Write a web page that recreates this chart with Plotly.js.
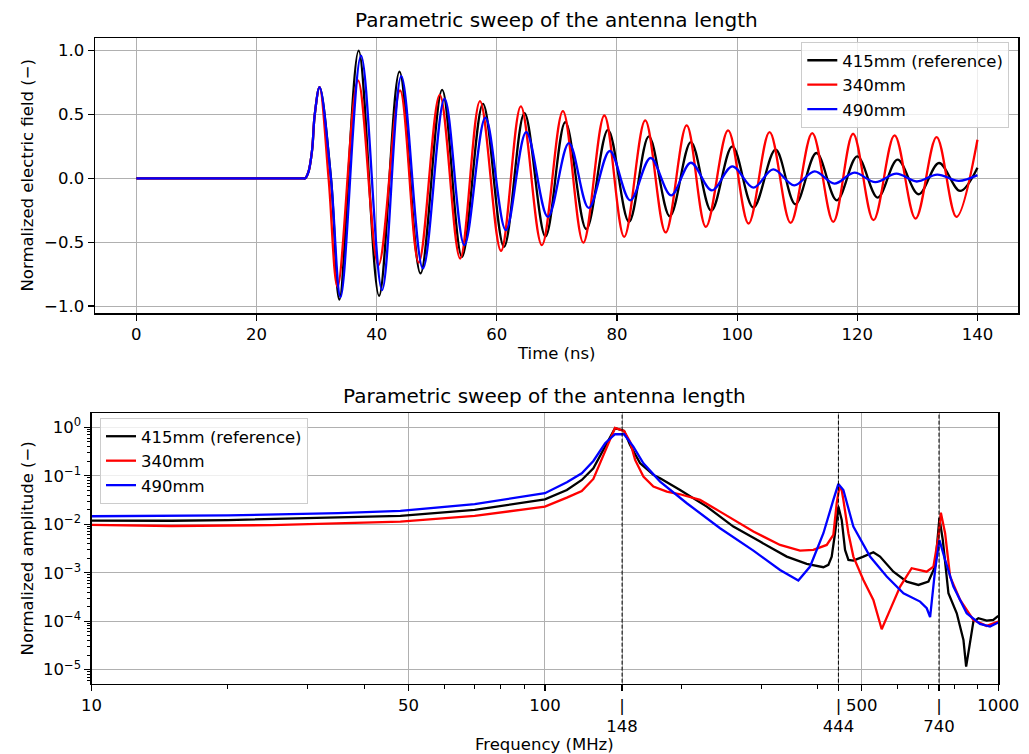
<!DOCTYPE html>
<html>
<head>
<meta charset="utf-8">
<script src="https://cdn.plot.ly/plotly-3.0.1.min.js"></script>
<style>html,body{margin:0;padding:0;background:#fff;}#chart{width:1029px;height:754px;}</style>
</head>
<body>
<div id="chart"></div>
<script>
// ---------- Time domain (ns, normalized field) ----------
const time_415 = [0, 27.6, 28.1, 28.65, 29.25, 29.7, 30.5, 32.4, 33.8, 37.0, 40.4, 43.8, 47.3, 50.9, 54.2, 57.7, 61.2, 64.6, 68.1, 71.4, 74.9, 78.5, 82.0, 85.3, 88.8, 92.3, 95.7, 99.2, 102.7, 106.4, 109.7, 113.2, 116.6, 120.0, 123.4, 126.7, 130.2, 133.6, 137.1, 140];
const field_415 = [0, 0, 0, 0.05, 0.22, 0.5, 0.713, 0, -0.95, 1.0, -0.92, 0.835, -0.745, 0.693, -0.615, 0.583, -0.536, 0.51, -0.455, 0.44, -0.398, 0.38, -0.341, 0.328, -0.297, 0.284, -0.255, 0.25, -0.229, 0.224, -0.203, 0.198, -0.172, 0.172, -0.151, 0.146, -0.125, 0.12, -0.099, 0.083];

const time_340 = [0, 27.6, 28.1, 28.65, 29.25, 29.7, 30.5, 32.0, 33.5, 36.9, 40.3, 43.9, 47.0, 50.5, 53.9, 57.2, 60.7, 64.0, 67.5, 71.0, 74.4, 77.9, 81.2, 84.7, 88.1, 91.6, 94.8, 98.5, 101.9, 105.4, 108.9, 112.5, 116.0, 119.3, 122.7, 126.2, 129.7, 133.2, 136.5, 140];
const field_340 = [0, 0, 0, 0.05, 0.22, 0.5, 0.713, 0, -0.85, 0.766, -0.68, 0.6875, -0.66, 0.654, -0.628, 0.604, -0.568, 0.5625, -0.523, 0.526, -0.503, 0.492, -0.458, 0.453, -0.424, 0.414, -0.38, 0.375, -0.354, 0.362, -0.349, 0.354, -0.341, 0.349, -0.328, 0.336, -0.315, 0.323, -0.302, 0.302];

const time_490 = [0, 27.6, 28.1, 28.65, 29.25, 29.7, 30.5, 32.4, 34.0, 37.4, 40.9, 44.1, 47.7, 51.3, 54.6, 58.1, 61.5, 64.9, 68.5, 72.0, 75.3, 78.8, 82.2, 85.6, 89.0, 92.3, 95.8, 99.2, 102.7, 106.0, 109.5, 112.9, 116.2, 119.5, 123.0, 126.5, 129.9, 133.3, 136.9, 140];
const field_490 = [0, 0, 0, 0.05, 0.22, 0.5, 0.713, 0, -0.93, 0.96, -0.875, 0.80, -0.706, 0.623, -0.523, 0.474, -0.406, 0.362, -0.302, 0.276, -0.232, 0.214, -0.172, 0.159, -0.133, 0.122, -0.094, 0.094, -0.073, 0.070, -0.055, 0.055, -0.042, 0.044, -0.03, 0.036, -0.025, 0.029, -0.02, 0.025];

// ---------- Frequency domain (MHz, normalized amplitude) ----------
const freq_415 = [10, 15, 20, 35, 48, 70, 100, 111.8, 120.6, 127.9, 135.8, 142.8, 149.5, 154.1, 162.2, 173.5, 179.5, 198.7, 227.5, 260.4, 298.2, 341.5, 378, 411.4, 421.9, 429.1, 436.4, 443.9, 451.5, 459.2, 467.1, 479, 504, 530.2, 548.4, 587, 628.3, 666.6, 701.3, 725.5, 741.6, 754.3, 776.3, 809.8, 837.8, 849.3, 863.4, 881.1, 903.6, 942.7, 975, 1000];
const amp_415 = [0.0119, 0.0118, 0.0122, 0.0137, 0.0148, 0.0197, 0.0327, 0.0509, 0.0819, 0.1425, 0.398, 0.955, 0.84, 0.43, 0.181, 0.104, 0.0887, 0.0509, 0.0231, 0.00893, 0.00438, 0.00215, 0.00152, 0.0013, 0.00145, 0.00215, 0.00652, 0.0231, 0.0123, 0.00295, 0.00184, 0.00178, 0.00215, 0.00264, 0.00215, 0.00105, 0.000656, 0.00056, 0.000656, 0.00134, 0.0133, 0.00474, 0.000377, 0.000146, 0.0000411, 0.0000116, 0.00003, 0.0000982, 0.000115, 0.000103, 0.000106, 0.000129];

const freq_340 = [10, 15, 25, 35, 48, 70, 100, 111.8, 120.6, 127.9, 135.8, 142.8, 149.5, 154.1, 158.1, 164.9, 173.5, 185.7, 198.7, 219.9, 243.4, 288.3, 330.1, 365.3, 391, 418.4, 432.7, 440.1, 446.1, 451.5, 455.3, 467.1, 479, 504, 530.2, 553.1, 577.1, 607.4, 644, 672.2, 695, 719.4, 737.9, 747, 763.3, 782.9, 823.7, 881.1, 942.7, 1000];
const amp_340 = [0.0097, 0.0092, 0.0096, 0.0104, 0.0113, 0.0148, 0.0231, 0.0354, 0.0486, 0.0859, 0.314, 0.97, 0.84, 0.506, 0.212, 0.096, 0.0597, 0.0471, 0.0415, 0.0317, 0.0182, 0.00705, 0.00374, 0.00286, 0.00295, 0.00374, 0.00602, 0.0271, 0.0578, 0.05, 0.0317, 0.00652, 0.00215, 0.000711, 0.000275, 0.0000683, 0.000171, 0.000518, 0.00124, 0.00112, 0.00105, 0.00134, 0.00555, 0.0173, 0.00652, 0.000832, 0.000275, 0.000106, 0.00008, 0.0000982];

const freq_490 = [10, 20, 35, 48, 70, 100, 111.8, 120.6, 127.9, 135.8, 142.8, 149.5, 156.7, 164.9, 179.5, 205.6, 243.4, 288.3, 330.1, 362.2, 384.5, 411.4, 432.7, 443.9, 455.3, 479, 521.3, 567.4, 617.8, 672.2, 695.3, 707.3, 725.5, 741.6, 763.3, 796.2, 851.6, 911.2, 958.7, 1000];
const amp_490 = [0.0146, 0.0152, 0.0169, 0.0188, 0.026, 0.0436, 0.0734, 0.1125, 0.202, 0.468, 0.717, 0.717, 0.399, 0.181, 0.0757, 0.0271, 0.00826, 0.00286, 0.00114, 0.000689, 0.00134, 0.00652, 0.0317, 0.0678, 0.0509, 0.00893, 0.00215, 0.000832, 0.000377, 0.000254, 0.000185, 0.000121, 0.00114, 0.00474, 0.00184, 0.000518, 0.000146, 0.0000879, 0.0000775, 0.0000937];

// resonance frequencies (MHz) marked by dashed lines
const resonances = [148, 444, 740];

// tick labels
const timeTicks = [0, 20, 40, 60, 80, 100, 120, 140];
const fieldTicks = [-1.0, -0.5, 0.0, 0.5, 1.0];
const freqTicks = [10, 50, 100, 500, 1000];
const ampTicks = [1, 0.1, 0.01, 0.001, 0.0001, 0.00001];
const ampTickText = ['10<sup>0</sup>', '10<sup>\u22121</sup>', '10<sup>\u22122</sup>', '10<sup>\u22123</sup>', '10<sup>\u22124</sup>', '10<sup>\u22125</sup>'];

const seriesNames = ['415mm (reference)', '340mm', '490mm'];
const seriesColors = ['#000000', '#ff0000', '#0000ff'];

const LW = 2.3;
const traces = [];
const timeX = [time_415, time_340, time_490];
const timeY = [field_415, field_340, field_490];
for (let i = 0; i < 3; i++) {
  traces.push({x: timeX[i], y: timeY[i], type: 'scatter', mode: 'lines', name: seriesNames[i],
    line: {color: seriesColors[i], width: LW, shape: 'spline', smoothing: 1}, xaxis: 'x', yaxis: 'y', legend: 'legend'});
}
const fX = [freq_415, freq_340, freq_490];
const fY = [amp_415, amp_340, amp_490];
for (let i = 0; i < 3; i++) {
  traces.push({x: fX[i], y: fY[i], type: 'scatter', mode: 'lines', name: seriesNames[i],
    line: {color: seriesColors[i], width: LW}, xaxis: 'x2', yaxis: 'y2', legend: 'legend2'});
}
resonances.forEach(f => {
  traces.push({x: [f, f], y: [1e-7, 100], type: 'scatter', mode: 'lines', showlegend: false, hoverinfo: 'skip',
    line: {color: '#000000', width: 1, dash: '4px,2px'}, xaxis: 'x2', yaxis: 'y2'});
});

// bottom x ticks (regular + resonance ones with a bar above)
const xt2 = freqTicks.concat(resonances).sort((a, b) => a - b);
const xt2text = xt2.map(v => resonances.includes(v) ? '|<br>' + v : String(v));

// minor log ticks
const minorX = [];
[10, 100].forEach(d => { for (let k = 2; k <= 9; k++) minorX.push(k * d); });
const minorY = [];
[1e-6, 1e-5, 1e-4, 1e-3, 1e-2, 1e-1, 1].forEach(d => { for (let k = 2; k <= 9; k++) minorY.push(k * d); });

const W = 1029, H = 754;
const px = v => v / W, py = v => 1 - v / H;

const axisCommon = {
  showline: true, linecolor: '#000', linewidth: 1.2, mirror: true,
  ticks: 'outside', ticklen: 6, tickwidth: 1.2, tickcolor: '#000',
  showgrid: true, gridcolor: '#b0b0b0', gridwidth: 1, zeroline: false,
  tickfont: {family: 'DejaVu Sans', size: 16.5, color: '#000'}, automargin: false
};

const layout = {
  width: W, height: H,
  margin: {l: 0, r: 0, t: 0, b: 0},
  paper_bgcolor: '#fff', plot_bgcolor: '#fff',
  font: {family: 'DejaVu Sans', size: 16.5, color: '#000'},
  showlegend: true,
  xaxis: Object.assign({}, axisCommon, {domain: [px(94.7), px(1018.3)], anchor: 'y', range: [-6.93, 146.8],
    tickmode: 'array', tickvals: timeTicks, ticktext: timeTicks.map(String)}),
  yaxis: Object.assign({}, axisCommon, {domain: [py(313.3), py(37.7)], anchor: 'x', range: [-1.057, 1.101],
    tickmode: 'array', tickvals: fieldTicks, ticktext: fieldTicks.map(v => v.toFixed(1).replace('-', '\u2212'))}),
  xaxis2: Object.assign({}, axisCommon, {domain: [px(91.5), px(998.3)], anchor: 'y2', type: 'log', range: [1, 3],
    tickmode: 'array', tickvals: xt2, ticktext: xt2text, tickangle: 0,
    minor: {tickmode: 'array', tickvals: minorX, ticks: 'outside', ticklen: 3.5, tickwidth: 1, tickcolor: '#000', showgrid: false}}),
  yaxis2: Object.assign({}, axisCommon, {domain: [py(684), py(412.7)], anchor: 'x2', type: 'log', range: [-5.295, 0.30],
    tickmode: 'array', tickvals: ampTicks, ticktext: ampTickText,
    minor: {tickmode: 'array', tickvals: minorY, ticks: 'outside', ticklen: 3.5, tickwidth: 1, tickcolor: '#000', showgrid: false}}),
  legend: {x: px(1009.3), y: py(42), xanchor: 'right', yanchor: 'top',
    bgcolor: 'rgba(255,255,255,0.8)', bordercolor: '#cccccc', borderwidth: 1,
    font: {family: 'DejaVu Sans', size: 16.5, color: '#000'}, tracegroupgap: 0},
  legend2: {x: px(100), y: py(418), xanchor: 'left', yanchor: 'top',
    bgcolor: 'rgba(255,255,255,0.8)', bordercolor: '#cccccc', borderwidth: 1,
    font: {family: 'DejaVu Sans', size: 16.5, color: '#000'}, tracegroupgap: 0},
  annotations: [
    {text: 'Parametric sweep of the antenna length', x: px(556.5), y: py(20.5), xref: 'paper', yref: 'paper',
      xanchor: 'center', yanchor: 'middle', showarrow: false, font: {size: 20, color: '#000'}},
    {text: 'Parametric sweep of the antenna length', x: px(544.9), y: py(395.5), xref: 'paper', yref: 'paper',
      xanchor: 'center', yanchor: 'middle', showarrow: false, font: {size: 20, color: '#000'}},
    {text: 'Time (ns)', x: px(556.5), y: py(354), xref: 'paper', yref: 'paper',
      xanchor: 'center', yanchor: 'middle', showarrow: false, font: {size: 16.5, color: '#000'}},
    {text: 'Frequency (MHz)', x: px(544.9), y: py(744), xref: 'paper', yref: 'paper',
      xanchor: 'center', yanchor: 'middle', showarrow: false, font: {size: 16.5, color: '#000'}},
    {text: 'Normalized electric field (\u2212)', x: px(27), y: py(175.5), xref: 'paper', yref: 'paper', textangle: -90,
      xanchor: 'center', yanchor: 'middle', showarrow: false, font: {size: 16.5, color: '#000'}},
    {text: 'Normalized amplitude (\u2212)', x: px(27), y: py(548.4), xref: 'paper', yref: 'paper', textangle: -90,
      xanchor: 'center', yanchor: 'middle', showarrow: false, font: {size: 16.5, color: '#000'}}
  ]
};

Plotly.newPlot('chart', traces, layout, {staticPlot: true, displayModeBar: false});
</script>
</body>
</html>
